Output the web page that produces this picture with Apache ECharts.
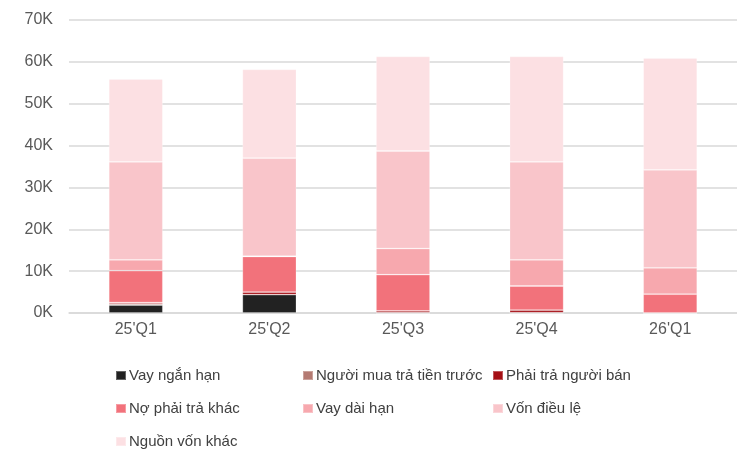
<!DOCTYPE html>
<html><head><meta charset="utf-8">
<script src="https://cdn.jsdelivr.net/npm/echarts@6/dist/echarts.min.js"></script>
<style>html,body{margin:0;padding:0;background:#fff}#c{width:737px;height:455px}</style>
</head><body><div id="c"></div>
<script>
const categories = ["25'Q1", "25'Q2", "25'Q3", "25'Q4", "26'Q1"];
const seriesNames = ["Vay ngắn hạn", "Người mua trả tiền trước", "Phải trả người bán", "Nợ phải trả khác", "Vay dài hạn", "Vốn điều lệ", "Nguồn vốn khác"];
const vayNganHan = [1.9, 4.4, 0, 0, 0];
const nguoiMuaTraTruoc = [0.3, 0, 0.1, 0.1, 0];
const phaiTraNguoiBan = [0.3, 0.6, 0.4, 0.6, 0];
const noPhaiTraKhac = [7.6, 8.5, 8.65, 5.75, 4.5];
const vayDaiHan = [2.6, 0.1, 6.25, 6.25, 6.3];
const vonDieuLe = [23.4, 23.4, 23.3, 23.4, 23.4];
const nguonVonKhac = [19.8, 21.2, 22.6, 25.2, 26.7];
const yTicks = [0, 10, 20, 30, 40, 50, 60, 70];
const colors = ['#222222', '#b47a72', '#a50f15', '#f2727b', '#f7a8ae', '#f9c5ca', '#fce0e3'];
const values = [vayNganHan, nguoiMuaTraTruoc, phaiTraNguoiBan, noPhaiTraKhac, vayDaiHan, vonDieuLe, nguonVonKhac];

const font = "'Liberation Sans Narrow', 'Liberation Sans', Arial, sans-serif";
const chart = echarts.init(document.getElementById('c'), null, {renderer: 'canvas'});
const legendBase = {
  orient: 'vertical', top: 363, height: 120, itemWidth: 10, itemHeight: 9, itemGap: 18,
  icon: 'rect',
  textStyle: {fontFamily: font, fontSize: 15, color: '#404040', padding: [0, 0, 0, -2]},
  selectedMode: false
};
chart.setOption({
  animation: false,
  textStyle: {fontFamily: font},
  grid: {left: 69, top: 20, width: 675, height: 293, containLabel: false},
  legend: [
    Object.assign({}, legendBase, {left: 110, data: [seriesNames[0], seriesNames[3], seriesNames[6]]}),
    Object.assign({}, legendBase, {left: 297, data: [seriesNames[1], seriesNames[4]]}),
    Object.assign({}, legendBase, {left: 487, data: [seriesNames[2], seriesNames[5]]})
  ],
  xAxis: {
    type: 'category', data: categories,
    axisLine: {lineStyle: {color: '#d9d9d9', width: 1.5}},
    axisTick: {show: false},
    axisLabel: {color: '#595959', fontSize: 16, fontFamily: font, margin: 9}
  },
  yAxis: {
    type: 'value', min: 0, max: 70, interval: 10,
    axisLine: {show: false}, axisTick: {show: false},
    splitLine: {lineStyle: {color: '#d9d9d9', width: 1.5}},
    axisLabel: {color: '#595959', fontSize: 16, fontFamily: font, margin: 16,
      formatter: v => yTicks.includes(v) ? v + 'K' : ''}
  },
  series: seriesNames.map((n, i) => ({
    name: n, type: 'bar', stack: 'total', barWidth: 54,
    data: values[i],
    itemStyle: {color: colors[i], borderColor: 'rgba(255,255,255,0.3)', borderWidth: 0.8}
  }))
});
</script></body></html>
